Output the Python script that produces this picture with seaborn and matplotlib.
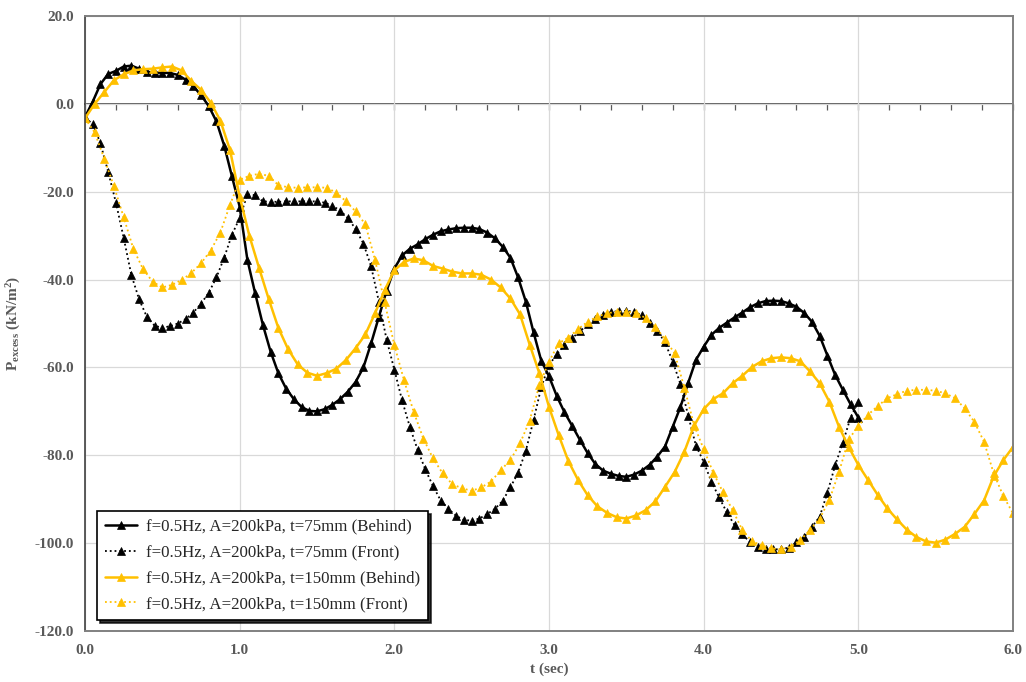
import numpy as np
import pandas as pd
import seaborn as sns
import matplotlib.pyplot as plt
from matplotlib.ticker import MultipleLocator, FormatStrFormatter, NullFormatter

# time grids (black sampled every 0.05 s, yellow every 0.0625 s)
t_black = np.linspace(0, 5, 101)
t_yellow = np.linspace(0, 6, 97)

black_behind = [
    -3.0, 0.5, 4.5, 6.8, 7.5, 8.5, 8.7, 8.0, 7.3, 7.1, 7.1, 7.0, 6.6, 5.5, 4.0, 2.0, -0.5, -4.0, -9.5, -16.5,
    -23.4, -35.5, -43.1, -50.3, -56.4, -61.3, -64.8, -67.2, -69.0, -69.9, -70.0, -69.5, -68.5, -67.2, -65.5, -63.3, -60.0, -54.5, -48.5, -42.5,
    -37.5, -34.5, -33.0, -32.0, -30.8, -29.8, -29.0, -28.6, -28.3, -28.2, -28.2, -28.5, -29.3, -30.6, -32.5, -35.0, -39.5, -45.0, -52.0, -58.5,
    -62.0, -66.5, -70.2, -73.3, -76.5, -79.5, -82.0, -83.5, -84.2, -84.7, -84.9, -84.4, -83.5, -82.2, -80.3, -78.0, -73.5, -69.0, -63.5, -58.3,
    -55.3, -52.6, -51.0, -49.8, -48.6, -47.5, -46.3, -45.4, -44.9, -44.8, -44.9, -45.4, -46.2, -47.6, -49.6, -52.8, -57.3, -61.7, -65.1, -68.4,
    -71.4,
]

black_front = [
    -3.3, -4.5, -9.0, -15.5, -22.5, -30.5, -39.0, -44.5, -48.5, -50.5, -51.0, -50.6, -50.0, -49.0, -47.5, -45.5, -43.0, -39.5, -35.0, -29.8,
    -26.0, -20.6, -20.8, -22.2, -22.3, -22.3, -22.2, -22.2, -22.2, -22.2, -22.2, -22.5, -23.2, -24.3, -26.0, -28.5, -31.8, -37.0, -45.0, -53.7,
    -60.5, -67.5, -73.5, -78.7, -83.2, -87.0, -90.3, -92.2, -93.8, -94.7, -94.9, -94.4, -93.4, -92.2, -90.4, -87.3, -84.0, -79.0, -72.0, -64.5,
    -59.5, -57.0, -55.0, -53.3, -51.8, -50.2, -48.9, -48.0, -47.4, -47.2, -47.1, -47.3, -48.1, -49.8, -51.6, -54.3, -58.7, -63.8, -71.0, -77.8,
    -81.5, -86.0, -89.6, -93.0, -95.9, -98.0, -99.8, -100.9, -101.3, -101.4, -101.4, -101.0, -99.8, -98.6, -96.3, -94.0, -88.5, -82.3, -77.1, -71.4,
    -67.8,
]

yellow_behind = [
    -3.3, 0.0, 2.7, 5.4, 6.7, 7.6, 7.9, 8.0, 8.3, 8.5, 7.6, 5.2, 3.2, 0.3, -3.8, -10.5,
    -21.1, -30.0, -37.3, -44.4, -51.0, -55.8, -59.3, -61.2, -61.9, -61.3, -60.3, -58.3, -55.6, -52.5, -47.7, -42.4,
    -37.9, -36.0, -35.2, -35.6, -36.9, -37.5, -38.2, -38.6, -38.6, -38.9, -40.0, -41.8, -44.3, -47.9, -54.8, -61.3,
    -69.0, -75.4, -81.3, -85.6, -89.1, -91.6, -93.1, -94.1, -94.4, -93.7, -92.5, -90.5, -87.2, -83.8, -79.2, -73.3,
    -69.5, -67.2, -65.9, -63.6, -61.9, -59.9, -58.6, -57.9, -57.7, -57.9, -58.6, -60.9, -63.6, -67.8, -73.5, -78.1,
    -82.2, -85.6, -89.0, -92.1, -94.6, -96.9, -98.6, -99.6, -99.9, -99.2, -97.9, -96.3, -93.4, -90.3, -84.8, -81.1,
    -78.1,
]

yellow_front = [
    -3.3, -6.5, -12.5, -18.8, -25.8, -33.0, -37.6, -40.5, -41.8, -41.2, -40.1, -38.5, -36.3, -33.4, -29.3, -23.0,
    -17.3, -16.4, -15.9, -16.4, -18.5, -19.0, -19.1, -19.0, -19.0, -19.1, -20.2, -22.2, -24.5, -27.4, -35.5, -45.2,
    -54.9, -62.9, -70.1, -76.2, -80.7, -84.1, -86.6, -87.5, -88.1, -87.3, -86.0, -83.4, -81.1, -77.3, -72.1, -64.0,
    -58.7, -54.5, -53.2, -51.3, -49.6, -48.4, -47.7, -47.3, -47.3, -47.5, -48.8, -50.7, -53.6, -56.8, -64.6, -73.1,
    -78.6, -84.0, -88.4, -92.5, -97.0, -99.6, -100.5, -101.2, -101.4, -100.8, -99.3, -97.0, -94.4, -90.2, -83.8, -76.4,
    -73.3, -70.8, -68.8, -67.0, -66.1, -65.3, -65.1, -65.1, -65.3, -65.9, -67.0, -69.3, -72.4, -76.9, -84.1, -89.3,
    -93.2,
]

labels = [
    "f=0.5Hz, A=200kPa, t=75mm (Behind)",
    "f=0.5Hz, A=200kPa, t=75mm (Front)",
    "f=0.5Hz, A=200kPa, t=150mm (Behind)",
    "f=0.5Hz, A=200kPa, t=150mm (Front)",
]

sns.set_style("white")
plt.rcParams["font.family"] = ["Liberation Serif", "DejaVu Serif"]
plt.rcParams["mathtext.fontset"] = "custom"
plt.rcParams["mathtext.rm"] = "Liberation Serif:bold"
plt.rcParams["mathtext.it"] = "Liberation Serif:bold"
plt.rcParams["mathtext.bf"] = "Liberation Serif:bold"

fig = plt.figure(figsize=(10.26, 6.82), dpi=100)
ax = fig.add_axes([85 / 1026, 1 - 631 / 682, 928 / 1026, 615 / 682])

series = [
    (t_black, black_behind, "black", "-", 1.8),
    (t_black, black_front, "black", ":", 1.3),
    (t_yellow, yellow_behind, "#FFC000", "-", 1.8),
    (t_yellow, yellow_front, "#FFC000", ":", 1.3),
]
for (t, v, c, ls, lw), lab in zip(series, labels):
    sns.lineplot(x=t, y=v, ax=ax, color=c, linestyle=ls, linewidth=lw,
                 marker="^", markersize=5.8, markeredgecolor=c, markeredgewidth=0.5,
                 label=lab, sort=False)

ax.set_xlim(0, 6)
ax.set_ylim(-120, 20)
ax.xaxis.set_major_locator(MultipleLocator(1))
ax.yaxis.set_major_locator(MultipleLocator(20))
ax.yaxis.set_minor_locator(MultipleLocator(4))
ax.xaxis.set_major_formatter(FormatStrFormatter("%.1f"))
ax.yaxis.set_major_formatter(FormatStrFormatter("%.1f"))
ax.grid(True, which="major", color="#d9d9d9", linewidth=0.9)
ax.set_axisbelow(True)

lab_color = "#595959"
ax.tick_params(axis="x", which="both", length=0, pad=9, labelsize=11, labelcolor=lab_color)
ax.tick_params(axis="y", which="both", direction="in", length=4, width=0.8, color="#404040",
               pad=8, labelsize=11, labelcolor=lab_color)
for lbl in ax.get_xticklabels() + ax.get_yticklabels():
    lbl.set_fontweight("bold")

for side in ["top", "right", "bottom"]:
    ax.spines[side].set_color("#808080")
    ax.spines[side].set_linewidth(1.4)
ax.spines["left"].set_color("#404040")
ax.spines["left"].set_linewidth(1.2)

# Excel-style horizontal axis crossing at zero, with minor ticks and no labels
sec = ax.secondary_xaxis(120 / 140)
sec.xaxis.set_major_locator(MultipleLocator(1))
sec.xaxis.set_minor_locator(MultipleLocator(0.2))
sec.xaxis.set_major_formatter(NullFormatter())
sec.xaxis.set_minor_formatter(NullFormatter())
sec.tick_params(axis="x", which="both", direction="in", length=4, width=0.9,
                color="#595959", labelbottom=False, labeltop=False)
for s in sec.spines.values():
    s.set_color("#595959")
    s.set_linewidth(1.4)

ax.set_xlabel("t (sec)", fontsize=11, fontweight="bold", color=lab_color, labelpad=4)
ax.set_ylabel(r"P$_{\rm excess}$ (kN/m$^{2}$)", fontsize=11, fontweight="bold",
              color=lab_color, labelpad=8)

leg = ax.legend(loc="lower left", bbox_to_anchor=(0.013, 0.018), borderaxespad=0,
                fontsize=12.2, frameon=True, fancybox=False, edgecolor="black",
                shadow={"color": "black", "alpha": 0.8}, handlelength=1.9,
                handletextpad=0.55, labelspacing=0.58, borderpad=0.45)
leg.get_frame().set_linewidth(1.2)

fig.savefig("out.png", dpi=100)
